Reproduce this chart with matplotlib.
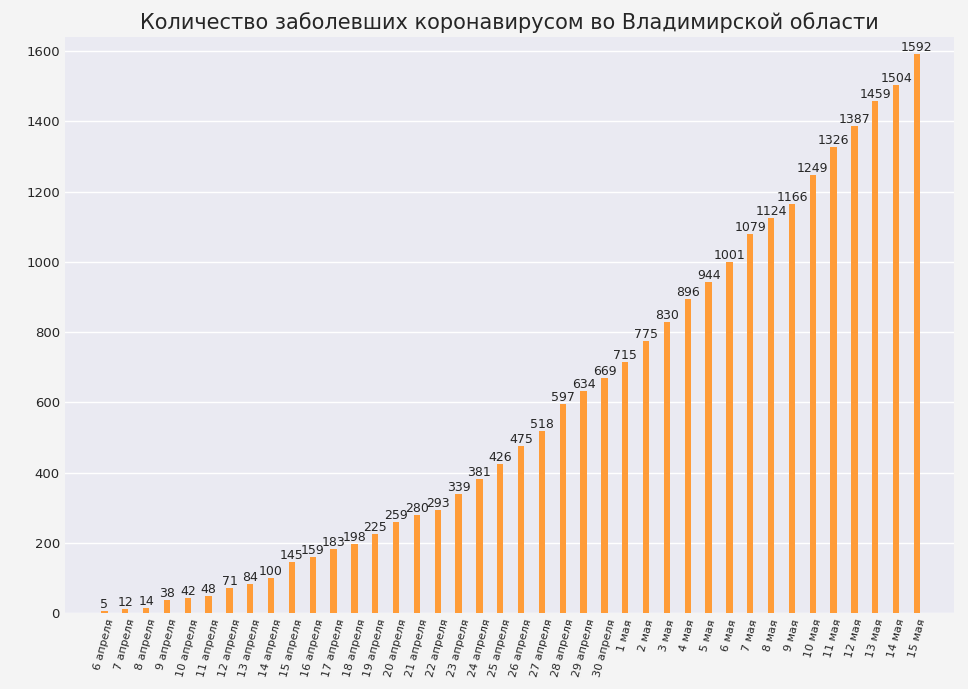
import matplotlib
matplotlib.use("Agg")
import matplotlib.pyplot as plt

dates = [f"{d} апреля" for d in range(6, 31)] + [f"{d} мая" for d in range(1, 16)]
cases = [5, 12, 14, 38, 42, 48, 71, 84, 100, 145, 159, 183, 198, 225, 259, 280, 293,
         339, 381, 426, 475, 518, 597, 634, 669, 715, 775, 830, 896, 944, 1001, 1079,
         1124, 1166, 1249, 1326, 1387, 1459, 1504, 1592]

fig = plt.figure(figsize=(9.68, 6.89), dpi=100, facecolor='#f4f4f4')
ax = fig.add_axes([0.067, 0.11, 0.919, 0.836])
ax.set_facecolor('#eaeaf2')
x = range(len(dates))
ax.bar(x, cases, width=0.3, color='#ff9c38', zorder=3)
for i, v in zip(x, cases):
    ax.text(i, v, str(v), ha='center', va='bottom', fontsize=9, color='#262626', zorder=4)

ax.set_xticks(list(x))
ax.set_xticklabels(dates, rotation=75, fontsize=8, color='#262626', ha='center')
ax.set_xlim(-1.9, len(dates) + 0.8)
ax.set_ylim(0, 1640)
ax.set_yticks(range(0, 1601, 200))
ax.tick_params(axis='y', labelsize=9.5, colors='#262626', length=0)
ax.tick_params(axis='x', length=0)
ax.grid(axis='y', color='white', linewidth=1, zorder=0)
for s in ax.spines.values():
    s.set_visible(False)
ax.set_title("Количество заболевших коронавирусом во Владимирской области",
             fontsize=15, color='#262626')
fig.savefig("out.png", dpi=100, facecolor=fig.get_facecolor())
